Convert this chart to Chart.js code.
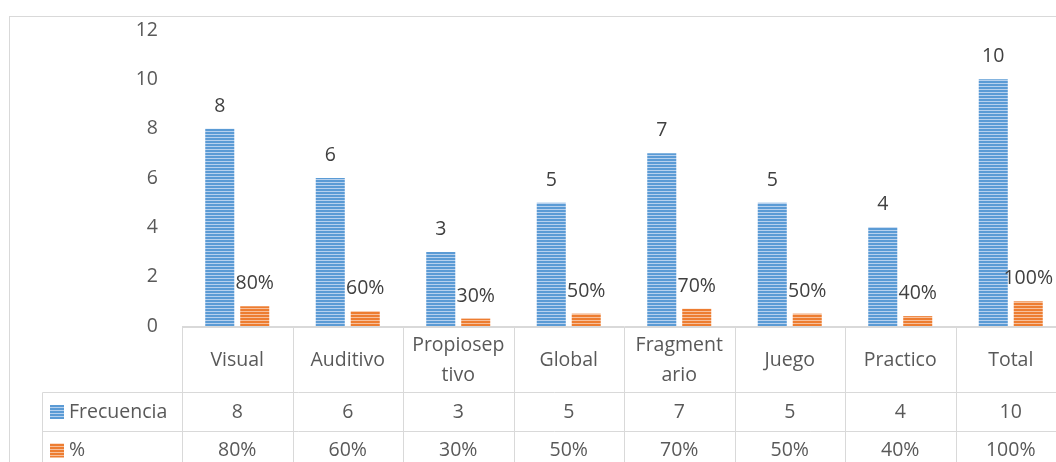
<!DOCTYPE html>
<html>
<head>
<meta charset="utf-8">
<script src="https://cdn.jsdelivr.net/npm/chart.js@4/dist/chart.umd.min.js"></script>
<style>
    html, body { margin: 0; padding: 0; background: #ffffff; overflow: hidden; }
    #wrap { position: relative; width: 1100px; height: 500px; }
    #frame { position: absolute; left: 9px; top: 16px; width: 1200px; height: 600px; border: 1px solid #d9d9d9; }
    #balanceChart { position: absolute; left: 0; top: 0; }
</style>
</head>
<body>
<div id="wrap">
    <div id="frame"></div>
    <canvas id="balanceChart" width="1100" height="500"></canvas>
</div>
<script>
// =========================================
// Datos
// =========================================

let categorias = ["Visual", "Auditivo", ["Propiosep", "tivo"], "Global", ["Fragment", "ario"], "Juego", "Practico", "Total"];

let frecuencia = [8, 6, 3, 5, 7, 5, 4, 10];

let porcentaje = [0.8, 0.6, 0.3, 0.5, 0.7, 0.5, 0.4, 1.0];

let yTicks = [0, 2, 4, 6, 8, 10, 12];

let series = ["Frecuencia", "%"];

let fuente = "'Open Sans', 'Noto Sans', sans-serif";


// =========================================
// Patron rayado (barras)
// =========================================

function rayas(base, claro){

    let c = document.createElement("canvas");
    c.width = 4;
    c.height = 3;
    let g = c.getContext("2d");
    g.fillStyle = base;
    g.fillRect(0, 0, 4, 3);
    g.fillStyle = claro;
    g.fillRect(0, 2, 4, 1);
    return g.createPattern(c, "repeat");

}

let azul = rayas("#5b9bd5", "#b7d1ee");
let naranja = rayas("#ed7d31", "#f7c09c");

function fmt(ds, v){
    return ds === 1 ? Math.round(v * 100) + "%" : String(v);
}


// =========================================
// Etiquetas de datos
// =========================================

let etiquetas = {

    id: "etiquetas",

    afterDatasetsDraw(chart){

        let ctx = chart.ctx;
        ctx.save();
        ctx.font = "19.5px " + fuente;
        ctx.fillStyle = "#404040";
        ctx.textAlign = "center";
        ctx.textBaseline = "alphabetic";

        chart.data.datasets.forEach((ds, d)=>{
            chart.getDatasetMeta(d).data.forEach((bar, i)=>{
                ctx.fillText(fmt(d, ds.data[i]), bar.x, bar.y - 17);
            });
        });

        ctx.restore();
    }

};


// =========================================
// Tabla de datos
// =========================================

let tabla = {

    id: "tabla",

    afterDraw(chart){

        let ctx = chart.ctx;
        let x = chart.scales.x;
        let area = chart.chartArea;
        let paso = x.getPixelForValue(1) - x.getPixelForValue(0);
        let top = area.bottom + 1.5;
        let fila1 = top + 65;
        let fila2 = fila1 + 39;
        let fin = chart.height;
        let izq = 42.5;

        ctx.save();
        ctx.strokeStyle = "#d9d9d9";
        ctx.lineWidth = 1;
        ctx.beginPath();

        ctx.moveTo(area.left, top);
        ctx.lineTo(area.right, top);
        ctx.moveTo(izq, fila1);
        ctx.lineTo(area.right, fila1);
        ctx.moveTo(izq, fila2);
        ctx.lineTo(area.right, fila2);
        ctx.moveTo(izq, fila1);
        ctx.lineTo(izq, fin);

        for(let i = 0; i <= categorias.length; i++){
            let bx = Math.round(x.getPixelForValue(i) - paso / 2) + 0.5;
            ctx.moveTo(bx, top);
            ctx.lineTo(bx, fin);
        }
        ctx.stroke();

        ctx.font = "19.5px " + fuente;
        ctx.fillStyle = "#595959";
        ctx.textAlign = "center";
        ctx.textBaseline = "middle";

        categorias.forEach((cat, i)=>{
            let cx = x.getPixelForValue(i);
            let lineas = Array.isArray(cat) ? cat : [cat];
            let mid = (top + fila1) / 2;
            lineas.forEach((t, k)=>{
                ctx.fillText(t, cx, mid + (k - (lineas.length - 1) / 2) * 30);
            });
            ctx.fillText(fmt(0, frecuencia[i]), cx, (fila1 + fila2) / 2);
            ctx.fillText(fmt(1, porcentaje[i]), cx, fila2 + 19);
        });

        // leyenda en la tabla
        let filas = [(fila1 + fila2) / 2, fila2 + 19];
        let colores = [azul, naranja];
        ctx.textAlign = "left";
        series.forEach((s, k)=>{
            ctx.fillStyle = colores[k];
            ctx.fillRect(50, filas[k] - 7, 14, 14);
            ctx.fillStyle = "#595959";
            ctx.fillText(s, 69, filas[k]);
        });

        ctx.restore();
    }

};


// =========================================
// Grafico
// =========================================

let ctx = document.getElementById("balanceChart").getContext("2d");

let grafico = new Chart(ctx, {

    type: "bar",

    data: {

        labels: categorias,

        datasets: [

            {
                label: series[0],
                data: frecuencia,
                backgroundColor: azul,
                borderWidth: 0
            },

            {
                label: series[1],
                data: porcentaje,
                backgroundColor: naranja,
                borderWidth: 0
            }

        ]

    },

    options: {

        responsive: false,

        animation: false,

        layout: {
            padding: { left: 0, right: 34, top: 30, bottom: 174 }
        },

        datasets: {
            bar: { categoryPercentage: 0.633, barPercentage: 0.83 }
        },

        plugins: {
            legend: { display: false },
            tooltip: { enabled: false }
        },

        scales: {

            x: {
                grid: { display: false },
                border: { display: true, color: "#d9d9d9", width: 1 },
                ticks: { display: false },
                afterFit(scale){ scale.height = 0; }
            },

            y: {
                min: 0,
                max: 12,
                grid: { display: false, drawTicks: false },
                border: { display: false },
                afterBuildTicks(scale){
                    scale.ticks = yTicks.map(v => ({ value: v }));
                },
                ticks: {
                    padding: 24,
                    color: "#595959",
                    font: { family: fuente, size: 19.5 }
                },
                afterFit(scale){
                    scale.width = 182;
                    scale.paddingTop = 0;
                    scale.paddingBottom = 0;
                }
            }

        }

    },

    plugins: [etiquetas, tabla]

});
</script>
</body>
</html>
